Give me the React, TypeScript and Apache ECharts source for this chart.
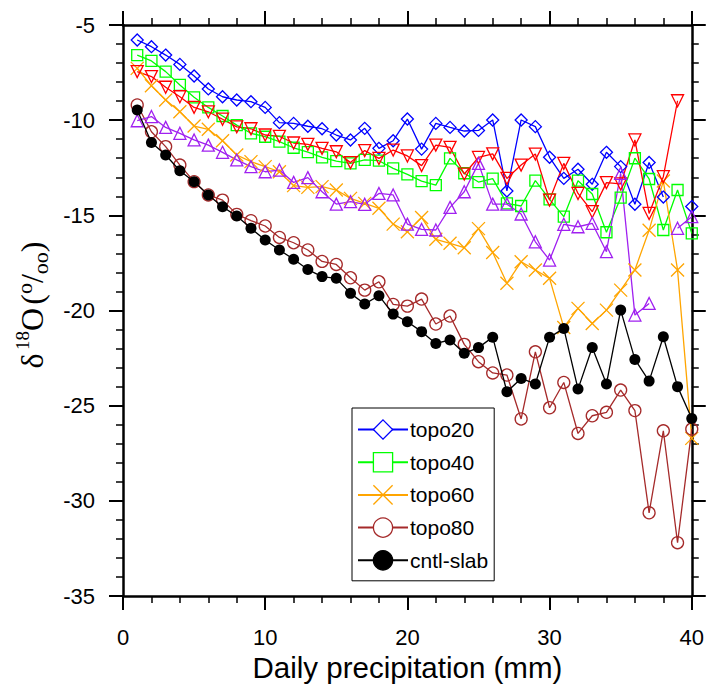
import React, { useEffect, useRef } from "react";
import * as echarts from "echarts";

const days = [1, 2, 3, 4, 5, 6, 7, 8, 9, 10, 11, 12, 13, 14, 15, 16, 17, 18, 19, 20, 21, 22, 23, 24, 25, 26, 27, 28, 29, 30, 31, 32, 33, 34, 35, 36, 37, 38, 39, 40];

const topo20 = [-5.79, -6.14, -6.58, -7.07, -7.68, -8.36, -8.77, -8.94, -9.03, -9.33, -10.13, -10.17, -10.32, -10.45, -10.78, -11.04, -10.43, -11.48, -11.08, -9.94, -11.52, -10.17, -10.38, -10.57, -10.54, -9.99, -13.72, -9.99, -10.34, -11.95, -13.06, -12.58, -13.37, -11.69, -12.44, -14.42, -12.22, -14.04, null, -14.54];
const topo40 = [-6.58, -6.89, -7.45, -8.15, -8.8, -9.33, -9.78, -10.26, -10.69, -10.87, -11.13, -11.45, -11.68, -11.95, -12.15, -12.27, -12.09, -12.13, -12.53, -12.85, -13.2, -13.41, -12.01, -12.79, -13.25, -13.07, -14.37, -14.51, -13.18, -14.16, -15.07, -13.18, -13.88, -15.89, -14.07, -12.0, -13.09, -15.77, -13.67, -15.95];
const topo60 = [-7.28, -8.19, -8.94, -9.56, -10.31, -10.48, -11.08, -11.83, -12.18, -12.44, -12.71, -13.44, -13.53, -13.49, -13.67, -14.11, -14.37, -14.63, -15.46, -15.86, -15.11, -16.26, -16.47, -16.7, -15.7, -16.95, -18.57, -17.44, -17.87, -18.31, -20.89, -19.89, -20.68, -19.98, -18.93, -17.87, -15.78, -13.2, -17.87, -26.72];
const topo80 = [-9.2, -10.61, -11.39, -12.36, -13.23, -13.93, -14.2, -14.95, -15.28, -15.56, -16.16, -16.44, -16.82, -17.42, -17.58, -18.28, -18.93, -18.49, -19.68, -19.77, -19.4, -20.71, -20.29, -21.78, -22.69, -23.28, -23.39, -25.7, -22.17, -25.11, -23.78, -26.46, -25.53, -25.35, -24.18, -25.26, -30.63, -26.32, -32.2, -26.23];
const cntlSlab = [-9.47, -11.17, -11.83, -12.66, -13.23, -13.93, -14.55, -15.04, -15.68, -16.3, -16.82, -17.31, -17.85, -18.22, -18.31, -19.1, -19.66, -19.22, -20.19, -20.59, -21.11, -21.73, -21.55, -22.25, -21.95, -21.4, -24.27, -23.57, -23.86, -21.41, -20.94, -24.13, -21.94, -23.86, -19.98, -22.57, -23.71, -21.38, -24.0, -25.67];
const redSeries = [-7.45, -7.71, -8.27, -8.77, -9.33, -9.56, -9.95, -10.35, -10.45, -10.78, -10.85, -11.2, -11.27, -11.48, -11.66, -12.23, -11.6, -12.01, -11.57, -11.88, -12.39, -11.31, -11.43, -12.83, -11.96, -11.77, -13.06, -12.36, -11.78, -14.2, -12.27, -13.85, -14.81, -13.28, -13.35, -11.04, -14.9, -12.97, -8.98, null];
const purpleSeries = [-10.03, -9.81, -10.38, -10.69, -11.04, -11.31, -11.69, -12.09, -12.44, -12.71, -12.62, -13.27, -13.02, -13.76, -14.41, -14.28, -14.42, -13.85, -13.93, -15.46, -15.74, -15.77, -14.58, -13.76, -12.27, -14.41, -14.41, -14.93, -16.39, -17.35, -15.47, -15.6, -15.42, -16.91, -12.8, -20.24, -19.63, null, -15.68, -15.07];

const legendNames = ["topo20", "topo40", "topo60", "topo80", "cntl-slab"];
const xTicks = [0, 10, 20, 30, 40];
const yTicks = [-35, -30, -25, -20, -15, -10, -5];

const SANS = "'Liberation Sans', Arial, Helvetica, sans-serif";
const SERIF = "'Liberation Serif', 'Times New Roman', serif";

function pairs(vals: (number | null)[]) {
  return days.map((d, i) => [d, vals[i] === null ? "-" : vals[i]]);
}

function mkSeries(name: string, vals: (number | null)[], color: string, symbol: string, size: number, filled: boolean, rotate = 0, z = 2) {
  return {
    name,
    type: "line",
    data: pairs(vals),
    symbol,
    symbolSize: size,
    symbolRotate: rotate,
    showSymbol: true,
    connectNulls: false,
    z,
    lineStyle: { color, width: 1.3 },
    itemStyle: filled
      ? { color, borderColor: color, borderWidth: 0 }
      : { color: "none", borderColor: color, borderWidth: 1.3 },
    emphasis: { disabled: true },
  };
}

const X_PATH = "path://M0,0L10,10M10,0L0,10";

export default function App() {
  const ref = useRef<HTMLDivElement>(null);
  useEffect(() => {
    if (!ref.current) return;
    const chart = echarts.init(ref.current, null, { renderer: "svg" });
    const axisLine = { show: true, onZero: false, lineStyle: { color: "#000", width: 2.5 } };
    const axisTick = { show: true, inside: false, length: 14, lineStyle: { color: "#000", width: 2 } };
    const minorTick = { show: true, length: 7, lineStyle: { color: "#000", width: 1.5 } };
    const xMin = xTicks[0], xMax = xTicks[xTicks.length - 1];
    const yMin = yTicks[0], yMax = yTicks[yTicks.length - 1];
    const option: any = {
      animation: false,
      grid: { left: 123, top: 25, right: 12, bottom: 98, containLabel: false },
      xAxis: [
        {
          type: "value", min: xMin, max: xMax, interval: 10, position: "bottom",
          axisLine, axisTick, minorTick: { ...minorTick, splitNumber: 5 },
          splitLine: { show: false },
          axisLabel: { fontSize: 22, color: "#000", fontFamily: SANS, margin: 30 },
          name: "Daily precipitation (mm)", nameLocation: "middle", nameGap: 53,
          nameTextStyle: { fontSize: 29.5, color: "#000", fontFamily: SANS },
        },
        {
          type: "value", min: xMin, max: xMax, interval: 10, position: "top",
          axisLine, axisTick, minorTick: { ...minorTick, splitNumber: 5 },
          splitLine: { show: false }, axisLabel: { show: false },
        },
      ],
      yAxis: [
        {
          type: "value", min: yMin, max: yMax, interval: 5, position: "left",
          axisLine, axisTick, minorTick: { ...minorTick, splitNumber: 5 },
          splitLine: { show: false },
          axisLabel: { fontSize: 22, color: "#000", fontFamily: SANS, margin: 28 },
        },
        {
          type: "value", min: yMin, max: yMax, interval: 5, position: "right",
          axisLine, axisTick, minorTick: { ...minorTick, splitNumber: 5 },
          splitLine: { show: false }, axisLabel: { show: false },
        },
      ],
      legend: {
        orient: "vertical",
        left: 352,
        top: 408,
        padding: [11, 6, 10, 5],
        itemWidth: 50,
        itemHeight: 24,
        itemGap: 11.7,
        borderColor: "#000",
        borderWidth: 1,
        backgroundColor: "#fff",
        selectedMode: false,
        textStyle: { fontSize: 21, color: "#000", fontFamily: SANS, padding: [0, 0, 0, -3] },
        itemStyle: { borderWidth: 1.3 },
        data: legendNames.map((n) =>
          n === "cntl-slab" ? { name: n } : { name: n, itemStyle: { color: "#fff" } }
        ),
      },
      graphic: [
        {
          type: "text",
          x: 32,
          y: 305,
          rotation: Math.PI / 2,
          style: {
            text: "{m|δ} {s|18}{m|O} {m|(}{so|o}{m|/}{sb|oo}{m|)}",
            align: "center",
            verticalAlign: "middle",
            fill: "#000",
            rich: {
              m: { fontSize: 32, fontFamily: SERIF, lineHeight: 38, verticalAlign: "middle", fill: "#000" },
              s: { fontSize: 19, fontFamily: SERIF, lineHeight: 19, verticalAlign: "top", fill: "#000" },
              so: { fontSize: 22, fontFamily: SERIF, lineHeight: 20, verticalAlign: "top", fill: "#000" },
              sb: { fontSize: 22, fontFamily: SERIF, lineHeight: 20, verticalAlign: "bottom", fill: "#000" },
            },
          },
        },
      ],
      series: [
        mkSeries("topo20", topo20, "#0000ff", "diamond", 12, false, 0, 3),
        mkSeries("topo40", topo40, "#00ff00", "rect", 11, false, 0, 3),
        mkSeries("topo60", topo60, "#ffa500", X_PATH, 13, false, 0, 3),
        mkSeries("topo80", topo80, "#a52a2a", "circle", 12, false, 0, 3),
        mkSeries("cntl-slab", cntlSlab, "#000000", "circle", 11, true, 0, 4),
        mkSeries("topo-red", redSeries, "#ff0000", "triangle", 12, false, 180, 3),
        mkSeries("topo-purple", purpleSeries, "#a020f0", "triangle", 12, false, 0, 3),
      ],
    };
    chart.setOption(option);
    return () => chart.dispose();
  }, []);
  return (
    <div
      ref={ref}
      style={{ position: "fixed", left: 0, top: 0, width: 707, height: 694, background: "#fff" }}
    />
  );
}
